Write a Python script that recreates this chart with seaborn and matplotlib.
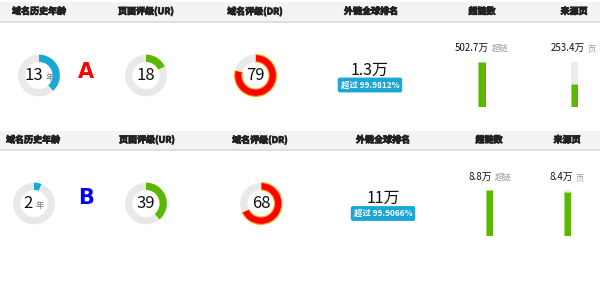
import matplotlib
matplotlib.use('Agg')
import matplotlib.pyplot as plt
import matplotlib.patheffects as pe
import seaborn as sns
import pandas as pd
from matplotlib.offsetbox import TextArea, HPacker, AnnotationBbox

# ---------------- data ----------------
panels = ['A', 'B']
panel_colors = ['#ff0000', '#0000ff']
headers = ['域名历史年龄', '页面评级(UR)', '域名评级(DR)', '外链全球排名', '超链数', '来源页']
age_years = [13, 2]
ur_scores = [18, 39]
dr_scores = [79, 68]
rank_text = ['1.3万', '11万']
rank_beat = ['99.9812%', '99.9066%']
backlinks_wan = [502.7, 8.8]
ref_pages_wan = [253.4, 8.4]
backlink_unit = '超链'
ref_unit = '页'
age_unit = '年'
beat_prefix = '超过'
AGE_SCALE = 34
SCORE_SCALE = 100

# ---------------- style ----------------
sns.set_theme(style='white')
plt.rcParams['font.family'] = ['Noto Sans CJK SC', 'DejaVu Sans']

W, H = 600, 288
fig = plt.figure(figsize=(6, 2.88), dpi=100)
bg = fig.add_axes([0, 0, 1, 1])
bg.set_xlim(0, W)
bg.set_ylim(H, 0)
bg.axis('off')


def box(x0, y0, w, h):
    return [x0 / W, 1 - (y0 + h) / H, w / W, h / H]


layout = [
    dict(band=(2, 21), header_x=[39, 146, 255, 371, 482, 574], header_y=11.5,
         donut_y=75.5, donut_x=[39, 146, 255.5], letter=(86, 72),
         rank_x=370, rank_y=70, badge_y=85, bar_x=[482, 574.5], bar_top=62,
         bar_bot=107, bar_w=[8, 7], label_y=48, label_x=[482, 573]),
    dict(band=(131, 149), header_x=[33, 147, 260, 383, 489, 567], header_y=140,
         donut_y=203.5, donut_x=[34, 146, 261], letter=(86, 198),
         rank_x=383, rank_y=198, badge_y=213.5, bar_x=[489.5, 567], bar_top=190,
         bar_bot=236, bar_w=[7, 7], label_y=177, label_x=[490, 567]),
]

TRACK = '#e9e9e9'
BOLD = [pe.withStroke(linewidth=0.6, foreground='#222222')]


def donut(cx, cy, frac, color, edge=None):
    R = 21.5
    ax = fig.add_axes(box(cx - R, cy - R, 2 * R, 2 * R))
    wedges, _ = ax.pie([frac, 1 - frac], colors=[color, TRACK], startangle=90,
                       counterclock=False, radius=1,
                       wedgeprops=dict(width=0.35, linewidth=0))
    if edge:
        wedges[0].set_edgecolor(edge)
        wedges[0].set_linewidth(0.8)
    ax.set_xlim(-1.03, 1.03)
    ax.set_ylim(-1.03, 1.03)
    ax.set_aspect('equal')
    ax.axis('off')
    return ax


def packed_label(x, y, main, sub, main_size, sub_size, sub_color):
    t1 = TextArea(main, textprops=dict(fontsize=main_size, color='#111111'))
    t2 = TextArea(sub, textprops=dict(fontsize=sub_size, color=sub_color))
    pk = HPacker(children=[t1, t2], align='baseline', pad=0, sep=2)
    ab = AnnotationBbox(pk, (x, y), xycoords='data', frameon=False,
                        box_alignment=(0.5, 0.5), pad=0)
    bg.add_artist(ab)


def bar(cx, top, bot, w, value, vmax):
    ax = fig.add_axes(box(cx - w / 2, top, w, bot - top))
    df = pd.DataFrame({'k': ['v'], 'value': [value]})
    sns.barplot(data=df, x='k', y='value', ax=ax, color='#5bb800', width=1,
                saturation=1, edgecolor='#a6dc6e', linewidth=0.6)
    ax.set_ylim(0, vmax)
    ax.set_xlim(-0.5, 0.5)
    ax.set_facecolor('#ebebeb')
    ax.set_xticks([])
    ax.set_yticks([])
    ax.set_xlabel('')
    ax.set_ylabel('')
    for s in ax.spines.values():
        s.set_visible(False)


for i, lay in enumerate(layout):
    y0, y1 = lay['band']
    bg.axhspan(y0, y1, color='#f3f3f3', lw=0)
    bg.axhline(y1 + 0.6, color='#dcdcdc', lw=1.3)
    for hx, htxt in zip(lay['header_x'], headers):
        bg.text(hx, lay['header_y'], htxt, ha='center', va='center',
                fontsize=6.5, fontweight='bold', color='#222222',
                path_effects=BOLD)

    dx = lay['donut_x']
    dy = lay['donut_y']
    donut(dx[0], dy, age_years[i] / AGE_SCALE, '#1ba6d8')
    donut(dx[1], dy, ur_scores[i] / SCORE_SCALE, '#5bb800')
    donut(dx[2], dy, dr_scores[i] / SCORE_SCALE, '#ff0000', edge='#ffaa00')

    packed_label(dx[0], dy, str(age_years[i]), age_unit, 12, 6, '#777777')
    bg.text(dx[1], dy, str(ur_scores[i]), ha='center', va='center',
            fontsize=12, color='#111111')
    bg.text(dx[2], dy, str(dr_scores[i]), ha='center', va='center',
            fontsize=12, color='#111111')

    lx, ly = lay['letter']
    bg.text(lx, ly, panels[i], ha='center', va='center', fontsize=15,
            fontweight='bold', color=panel_colors[i], family='DejaVu Sans')

    bg.text(lay['rank_x'], lay['rank_y'], rank_text[i], ha='center',
            va='center', fontsize=11.5, color='#111111')
    bg.text(lay['rank_x'], lay['badge_y'], f'{beat_prefix} {rank_beat[i]}',
            ha='center', va='center', fontsize=6, fontweight='bold',
            color='white',
            bbox=dict(boxstyle='round,pad=0.35,rounding_size=0.25',
                      fc='#1ba6d6', ec='none'))

    vmax = max(backlinks_wan[i], ref_pages_wan[i])
    bar(lay['bar_x'][0], lay['bar_top'], lay['bar_bot'], lay['bar_w'][0],
        backlinks_wan[i], vmax)
    bar(lay['bar_x'][1], lay['bar_top'], lay['bar_bot'], lay['bar_w'][1],
        ref_pages_wan[i], vmax)
    packed_label(lay['label_x'][0], lay['label_y'], f'{backlinks_wan[i]:g}万',
                 backlink_unit, 7, 6, '#999999')
    packed_label(lay['label_x'][1], lay['label_y'], f'{ref_pages_wan[i]:g}万',
                 ref_unit, 7, 6, '#999999')

fig.savefig('out.png', dpi=100)
